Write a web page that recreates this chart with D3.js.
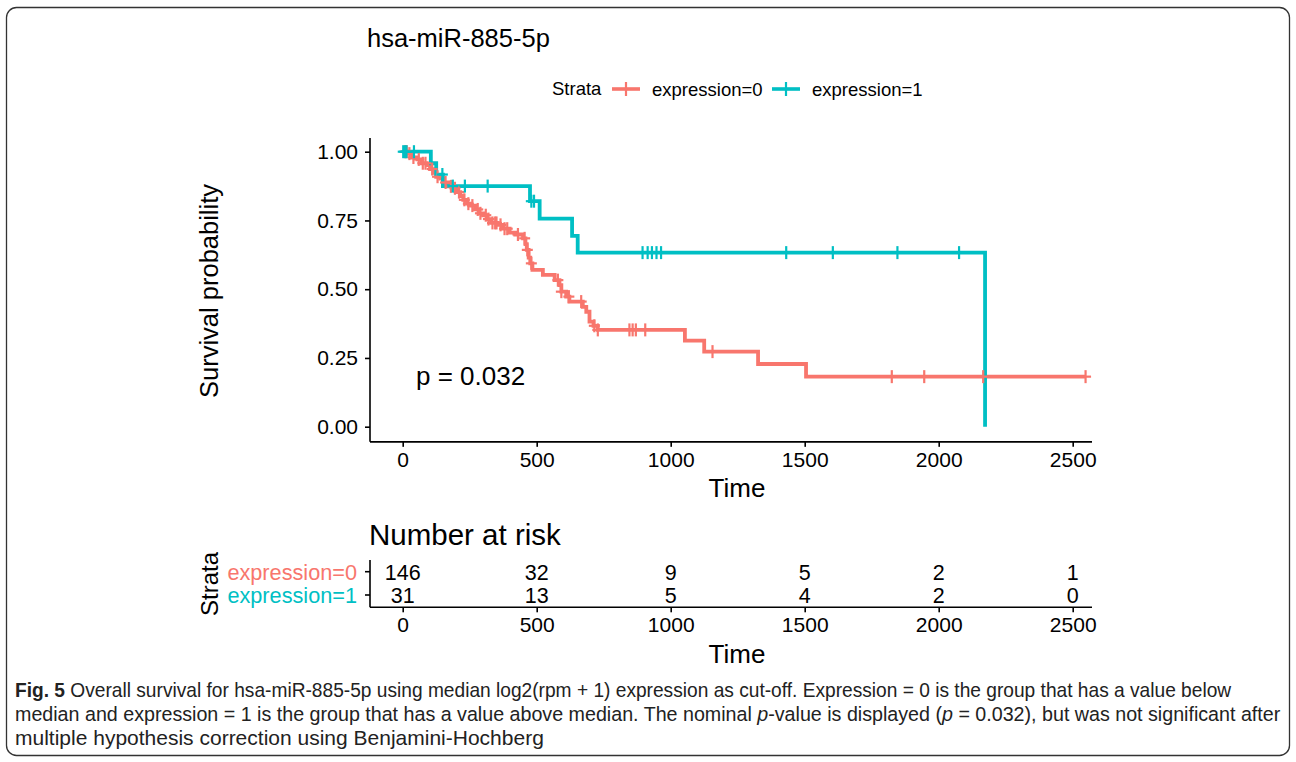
<!DOCTYPE html>
<html>
<head>
<meta charset="utf-8">
<script src="https://cdn.jsdelivr.net/npm/d3@7"></script>
<style>
  body { margin: 0; background: #fff; }
  svg text { font-family: "Liberation Sans", Arial, sans-serif; }
</style>
</head>
<body>
<div id="chart"></div>
<script>
// step curves: time at which the curve drops, and new survival
var red_times = [0, 20, 35, 55, 71, 90, 102, 115, 125, 140, 151, 170, 190, 201, 215, 226, 240, 255, 270, 285,
  300, 315, 330, 355, 374, 399, 420, 449, 458, 463, 470, 476, 484, 523, 567, 585, 592, 610, 622, 672,
  685, 697, 712, 728, 1053, 1125, 1326, 1505, 2548];
var red_surv = [1, 0.993, 0.979, 0.972, 0.958, 0.951, 0.937, 0.923, 0.909, 0.902, 0.888, 0.874, 0.867, 0.853, 0.839, 0.825, 0.811, 0.804, 0.790, 0.776,
  0.769, 0.755, 0.741, 0.734, 0.720, 0.706, 0.699, 0.685, 0.664, 0.643, 0.615, 0.594, 0.570, 0.552, 0.533, 0.515, 0.491, 0.473, 0.455, 0.436,
  0.418, 0.382, 0.367, 0.352, 0.313, 0.273, 0.228, 0.182, 0.182];
var red_censor = [10, 15, 25, 40, 60, 75, 85, 110, 130, 160, 180, 195, 210, 230, 245, 260, 280, 290, 310, 320,
  335, 345, 350, 365, 380, 390, 430, 455, 465, 480, 579, 592, 620, 666, 715, 728, 846, 858, 870, 905,
  1156, 1825, 1946, 2166, 2548];

var teal_times = [0, 105, 125, 150, 475, 511, 632, 653, 2173];
var teal_surv = [1, 0.958, 0.917, 0.875, 0.820, 0.757, 0.694, 0.633, 0];
var teal_censor = [2, 8, 14, 42, 148, 187, 232, 317, 480, 490, 895, 914, 930, 947, 964, 1431, 1605, 1846, 2076];

var strata = ["expression=0", "expression=1"];
var colors = ["#F8766D", "#00BFC4"];
var time_ticks = [0, 500, 1000, 1500, 2000, 2500];
var surv_ticks = [0, 0.25, 0.5, 0.75, 1];
var risk_red = [146, 32, 9, 5, 2, 1];
var risk_teal = [31, 13, 5, 4, 2, 0];

var W = 1296, H = 762;
var svg = d3.select("#chart").append("svg").attr("width", W).attr("height", H);

// outer frame of the figure
svg.append("rect").attr("x", 6.5).attr("y", 7.5).attr("width", 1283).attr("height", 748)
  .attr("rx", 10).attr("fill", "none").attr("stroke", "#333").attr("stroke-width", 1.3);

var x = d3.scaleLinear().domain([0, 2500]).range([402.7, 1072.7]);
var xLim = [-122, 2572];
var y = d3.scaleLinear().domain([0, 1]).range([426.7, 151.7]);
var tickFont = 21;

// title
svg.append("text").attr("x", 367).attr("y", 47).attr("font-size", 25.5).text("hsa-miR-885-5p");

// legend
var leg = svg.append("g");
leg.append("text").attr("x", 552).attr("y", 95).attr("font-size", 18.5).text("Strata");
var legX = [612, 772];
strata.forEach(function (s, i) {
  var g = leg.append("g").attr("transform", "translate(" + legX[i] + ",89)");
  g.append("line").attr("x1", 0).attr("x2", 28).attr("stroke", colors[i]).attr("stroke-width", 3.6);
  g.append("line").attr("x1", 14).attr("x2", 14).attr("y1", -7).attr("y2", 7).attr("stroke", colors[i]).attr("stroke-width", 2.2);
  g.append("text").attr("x", 40).attr("y", 6.5).attr("font-size", 18.5).text(s);
});

// main panel axes
var axG = svg.append("g");
axG.append("line").attr("x1", x(xLim[0])).attr("x2", x(xLim[0])).attr("y1", y(1.05)).attr("y2", y(-0.055))
  .attr("stroke", "#000").attr("stroke-width", 1.6);
axG.append("line").attr("x1", x(xLim[0])).attr("x2", x(xLim[1])).attr("y1", y(-0.055)).attr("y2", y(-0.055))
  .attr("stroke", "#000").attr("stroke-width", 1.6);

var yAxis = d3.axisLeft(y).tickValues(surv_ticks).tickFormat(d3.format(".2f")).tickSize(5).tickPadding(7);
var yG = svg.append("g").attr("transform", "translate(" + x(xLim[0]) + ",0)").call(yAxis);
yG.select(".domain").remove();
yG.selectAll("line").attr("stroke", "#000").attr("stroke-width", 1.6);
yG.selectAll("text").attr("font-size", tickFont).attr("fill", "#000").attr("font-family", "Liberation Sans, Arial, sans-serif");

var xAxis = d3.axisBottom(x).tickValues(time_ticks).tickFormat(d3.format("d")).tickSize(5).tickPadding(5);
var xG = svg.append("g").attr("transform", "translate(0," + y(-0.055) + ")").call(xAxis);
xG.select(".domain").remove();
xG.selectAll("line").attr("stroke", "#000").attr("stroke-width", 1.6);
xG.selectAll("text").attr("font-size", tickFont).attr("fill", "#000").attr("font-family", "Liberation Sans, Arial, sans-serif");

svg.append("text").attr("x", 737).attr("y", 497).attr("text-anchor", "middle").attr("font-size", 26).text("Time");
svg.append("text").attr("transform", "translate(218,291) rotate(-90)").attr("text-anchor", "middle")
  .attr("font-size", 25.5).text("Survival probability");
svg.append("text").attr("x", 416).attr("y", 385).attr("font-size", 26).text("p = 0.032");

// survival curves
var line = d3.line().x(function (d) { return x(d[0]); }).y(function (d) { return y(d[1]); }).curve(d3.curveStepAfter);
var curves = [
  { times: red_times, surv: red_surv, censor: red_censor },
  { times: teal_times, surv: teal_surv, censor: teal_censor }
];
function survAt(c, t) {
  var s = c.surv[0];
  for (var i = 0; i < c.times.length; i++) { if (c.times[i] <= t) s = c.surv[i]; }
  return s;
}
curves.forEach(function (c, i) {
  var pts = c.times.map(function (t, j) { return [t, c.surv[j]]; });
  svg.append("path").attr("d", line(pts)).attr("fill", "none").attr("stroke", colors[i])
    .attr("stroke-width", 3.8).attr("stroke-linejoin", "miter");
});
curves.forEach(function (c, i) {
  var g = svg.append("g").attr("stroke", colors[i]).attr("stroke-width", 2.2);
  c.censor.forEach(function (t) {
    var cx = x(t), cy = y(survAt(c, t));
    g.append("line").attr("x1", cx).attr("x2", cx).attr("y1", cy - 6.5).attr("y2", cy + 6.5);
    g.append("line").attr("x1", cx - 5.5).attr("x2", cx + 5.5).attr("y1", cy).attr("y2", cy);
  });
});

// risk table
svg.append("text").attr("x", 369).attr("y", 545).attr("font-size", 29.5).text("Number at risk");
var rowY = [571.7, 595];
var rG = svg.append("g");
rG.append("line").attr("x1", x(xLim[0])).attr("x2", x(xLim[0])).attr("y1", 560).attr("y2", 607.3)
  .attr("stroke", "#000").attr("stroke-width", 1.6);
rG.append("line").attr("x1", x(xLim[0])).attr("x2", x(xLim[1])).attr("y1", 607.3).attr("y2", 607.3)
  .attr("stroke", "#000").attr("stroke-width", 1.6);
[risk_red, risk_teal].forEach(function (row, i) {
  rG.append("line").attr("x1", x(xLim[0]) - 5).attr("x2", x(xLim[0])).attr("y1", rowY[i]).attr("y2", rowY[i])
    .attr("stroke", "#000").attr("stroke-width", 1.6);
  rG.append("text").attr("x", 357).attr("y", rowY[i] + 7.8).attr("text-anchor", "end").attr("font-size", 21.7)
    .attr("fill", colors[i]).text(strata[i]);
  row.forEach(function (v, j) {
    rG.append("text").attr("x", x(time_ticks[j])).attr("y", rowY[i] + 8).attr("text-anchor", "middle")
      .attr("font-size", 21.5).text(v);
  });
});
var xG2 = svg.append("g").attr("transform", "translate(0,607.3)").call(xAxis);
xG2.select(".domain").remove();
xG2.selectAll("line").attr("stroke", "#000").attr("stroke-width", 1.6);
xG2.selectAll("text").attr("font-size", tickFont).attr("fill", "#000").attr("font-family", "Liberation Sans, Arial, sans-serif");
svg.append("text").attr("x", 737).attr("y", 663).attr("text-anchor", "middle").attr("font-size", 26).text("Time");
svg.append("text").attr("transform", "translate(218,584) rotate(-90)").attr("text-anchor", "middle")
  .attr("font-size", 24).text("Strata");

// caption: condensed look by squeezing each line horizontally to the width it has in the figure
var capLines = [
  { y: 697, w: 1217, parts: [["Fig. 5", "b"], [" Overall survival for hsa-miR-885-5p using median log2(rpm + 1) expression as cut-off. Expression = 0 is the group that has a value below", ""]] },
  { y: 721, w: 1266, parts: [["median and expression = 1 is the group that has a value above median. The nominal ", ""], ["p", "i"], ["-value is displayed (", ""], ["p", "i"], [" = 0.032), but was not significant after", ""]] },
  { y: 745, w: 529, parts: [["multiple hypothesis correction using Benjamini-Hochberg", ""]] }
];
capLines.forEach(function (l) {
  var t = svg.append("text").attr("font-size", 20.5).attr("fill", "#222");
  l.parts.forEach(function (p) {
    var ts = t.append("tspan").text(p[0]);
    if (p[1] === "b") ts.attr("font-weight", "bold");
    if (p[1] === "i") ts.attr("font-style", "italic");
  });
  var nat = t.node().getComputedTextLength();
  t.attr("transform", "translate(15," + l.y + ") scale(" + (l.w / nat) + ",1)");
});
</script>
</body>
</html>
